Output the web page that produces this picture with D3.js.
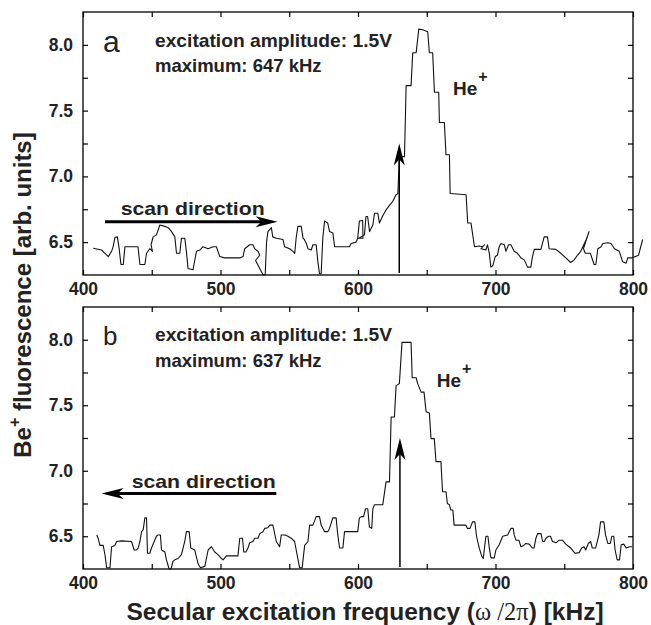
<!DOCTYPE html>
<html><head><meta charset="utf-8">
<script src="https://cdn.jsdelivr.net/npm/d3@7"></script>
<style>body{margin:0;background:#fff}svg{display:block}</style>
</head><body><svg id="c" width="651" height="625"></svg>
<script>
// ---- data ----
const freqA = [407.5,413.5,416,418.4,420.8,422,423.2,425,426.3,427.6,429.3,430.5,440,441.4,445,446.2,448.6,450.5,449.5,451,453.4,455.9,459.5,462,464.4,466.8,468,470.4,471.6,474,475.2,476.4,480,482.5,485,487.3,491,494.6,497,499.5,503,514,516.4,517.6,521.2,523.6,524.9,527.3,528.5,525.5,531,532.5,533.5,534.5,537,538,540.6,545.4,546.6,550.3,552.7,554,555,556.3,558.7,560,561,562.4,563.6,566,567.2,569.6,570.8,572,573.2,574.4,575.7,578,579.3,581.7,583,593.8,595,598.6,599.8,601,603.4,603.6,600.5,604.7,605.8,607,608.4,610.8,612,614.4,615.6,618,620.4,622.9,625.3,627.7,629,630.1,633.8,635,638.6,639.8,642.3,644.2,647,650.7,651.9,654.3,655.6,658.7,659.2,662.8,664,666.5,667,678.6,679.8,682.2,684.7,688.2,690.7,692,689.5,693,694.2,695.5,696.6,698,699.8,701.4,702.7,703.9,706.4,707.6,709.5,711.2,713.6,716,718.5,720.9,723.3,725.7,726.9,728.2,733,735.4,737.8,739,743.9,747.5,751.1,754.7,757.2,759.6,762,766,768,764,765.3,769,771.7,773,774.4,776.8,778,781.7,784,786.5,790,792.5,795,796.2,799,804,807];
const signalA = [6.453,6.44,6.415,6.39,6.43,6.47,6.535,6.54,6.45,6.33,6.33,6.465,6.465,6.33,6.33,6.415,6.45,6.43,6.48,6.54,6.555,6.63,6.62,6.61,6.58,6.54,6.415,6.415,6.53,6.53,6.43,6.30,6.29,6.43,6.44,6.465,6.45,6.465,6.465,6.39,6.38,6.38,6.39,6.45,6.48,6.48,6.45,6.43,6.40,6.36,6.25,6.25,6.50,6.58,6.61,6.54,6.53,6.52,6.465,6.45,6.43,6.415,6.53,6.62,6.62,6.53,6.52,6.49,6.45,6.44,6.48,6.48,6.35,6.26,6.26,6.53,6.66,6.645,6.58,6.57,6.465,6.465,6.49,6.50,6.53,6.66,6.665,6.53,6.53,6.555,6.695,6.695,6.58,6.63,6.72,6.72,6.645,6.70,6.745,6.78,6.81,6.86,6.87,7.15,7.15,7.69,7.69,7.94,7.94,8.12,8.115,8.10,7.94,7.94,7.64,7.64,7.41,7.41,7.165,7.165,6.87,6.86,6.645,6.645,6.465,6.47,6.465,6.48,6.45,6.44,6.48,6.415,6.31,6.32,6.39,6.40,6.465,6.49,6.48,6.43,6.48,6.48,6.43,6.415,6.38,6.365,6.31,6.31,6.39,6.445,6.445,6.54,6.54,6.45,6.445,6.415,6.38,6.345,6.365,6.40,6.43,6.52,6.58,6.45,6.415,6.415,6.33,6.33,6.45,6.465,6.49,6.495,6.49,6.45,6.43,6.35,6.34,6.38,6.38,6.40,6.52];

const freqB = [410,411,412.3,414.7,416,417.2,419.6,420.8,423.2,424.4,428,435.3,437.2,438.9,440.1,441.4,442.6,443.8,445,446.2,446.9,448.6,449.8,453.4,454.6,456.3,457.1,459.5,460.7,462.6,464,465.5,466.8,469.2,471.6,474,475.2,477.2,478.4,481.3,483.7,485.4,488.6,491,493.4,495.8,498.2,500.7,501.9,504.3,512.7,514,516,516.9,518.5,520,521.2,523.6,524.9,527.3,528.5,530.9,532.1,534.5,535.8,538.1,540.6,543,544.2,547,549,551.4,553.9,557.5,559.4,561.2,563.6,564.8,567.2,569.6,572,573.2,575.7,578,579.3,581.7,584.1,585.3,586.6,589,590.2,599.8,601,602.4,604,605.5,607.1,608.3,610,610.8,612,618,620.4,622.9,624.1,626.5,627.7,630.1,632,638.6,639.4,642.3,643.4,645.9,648,649.5,651.9,653.1,655.5,656.7,660.3,661.5,664,665,666.5,667.5,669,669.9,678.4,679.6,681.5,683.3,685,686.2,688.2,690.1,691.1,693,694.5,695.5,696.7,699.1,700.3,702.7,705.2,708.8,710,711.2,712.9,713.6,714.9,717,718.5,720.5,722.1,724.5,726.9,728,729.4,730.6,733.1,734.3,735.5,736.7,738.6,740,741.4,744,746.3,748.7,751.1,754.7,757.9,760.8,762.7,764.4,765.6,767.5,769.2,770.4,772.8,775.2,776.4,778.8,780,781.7,783.5,784.6,786,787,788.5,790.2,791.4,793.3,795,797.5,799.3];
const signalB = [6.51,6.485,6.43,6.43,6.357,6.26,6.26,6.42,6.43,6.46,6.465,6.46,6.395,6.395,6.41,6.46,6.535,6.55,6.64,6.64,6.37,6.37,6.41,6.50,6.51,6.51,6.395,6.38,6.32,6.25,6.25,6.31,6.32,6.33,6.36,6.46,6.535,6.535,6.41,6.395,6.29,6.26,6.27,6.395,6.42,6.38,6.36,6.33,6.32,6.35,6.35,6.485,6.485,6.38,6.38,6.41,6.45,6.46,6.485,6.485,6.52,6.535,6.56,6.565,6.585,6.585,6.46,6.42,6.51,6.51,6.50,6.485,6.46,6.26,6.26,6.43,6.46,6.585,6.585,6.65,6.65,6.585,6.535,6.535,6.56,6.64,6.64,6.51,6.41,6.41,6.535,6.535,6.64,6.65,6.65,6.71,6.71,6.57,6.56,6.71,6.74,6.74,6.915,6.915,7.41,7.41,7.65,7.665,7.98,7.98,7.71,7.71,7.665,7.60,7.60,7.45,7.44,7.245,7.245,7.07,7.07,6.84,6.84,6.75,6.74,6.70,6.70,6.585,6.585,6.56,6.56,6.61,6.61,6.50,6.41,6.345,6.33,6.50,6.50,6.41,6.335,6.335,6.395,6.435,6.50,6.51,6.535,6.56,6.56,6.51,6.47,6.47,6.42,6.43,6.445,6.44,6.41,6.41,6.485,6.52,6.52,6.46,6.46,6.485,6.50,6.50,6.46,6.45,6.47,6.47,6.44,6.41,6.37,6.375,6.41,6.42,6.395,6.445,6.46,6.41,6.41,6.51,6.61,6.61,6.51,6.445,6.445,6.50,6.50,6.395,6.32,6.32,6.435,6.44,6.41,6.42,6.42];

const xMajorTicks = [400,500,600,700,800];
const xMinorTicks = [450,550,650,750];
const yMajorTicks = [6.5,7.0,7.5,8.0];
const yMinorTicks = [6.75,7.25,7.75];
const panelLabels = ["a","b"];
const amplitudeTexts = ["excitation amplitude: 1.5V","excitation amplitude: 1.5V"];
const maximumTexts = ["maximum: 647 kHz","maximum: 637 kHz"];
const markerFreq = [630,630.5];
const markerTop = [7.25,7.25];
const scanFrom = [416,540.6];
const scanTo = [541.5,413.5];
const scanLevel = [6.654,6.827];

// ---- layout ----
const svg = d3.select("#c");
const W = 651, H = 625;
const left = 83, right = 633;
const panels = [
  {top:12, bottom:275, freq:freqA, sig:signalA, lab:{x:103,y:40,size:30}, txtY:[34.7,59.7], he:{x:453,y:83}, scanTxt:{x:120.7,y:203}},
  {top:307, bottom:569, freq:freqB, sig:signalB, lab:{x:103,y:38,size:26}, txtY:[33.7,59.7], he:{x:436.7,y:80}, scanTxt:{x:131.7,y:181}}
];
const sans = "'Liberation Sans', Arial, Helvetica, sans-serif";
const x = d3.scaleLinear().domain([400,800]).range([left,right]);

function arrowHead(g, tx, ty, ang){
  const L=22, hw=5.5, n=16;
  const p = d3.path();
  p.moveTo(0,0); p.lineTo(-L,-hw); p.lineTo(-n,0); p.lineTo(-L,hw); p.closePath();
  g.append("path").attr("d",p.toString())
    .attr("transform",`translate(${tx},${ty}) rotate(${ang})`).attr("fill","#000");
}

panels.forEach((P,i)=>{
  const y = d3.scaleLinear().domain([6.25,8.25]).range([P.bottom,P.top]);
  const g = svg.append("g");
  const tk = 5;
  // axes
  const styleAxis = sel => { sel.select(".domain").remove();
    sel.selectAll("line").attr("stroke","#000").attr("stroke-width",1.2);
    sel.selectAll("text").attr("font-family",sans).attr("font-weight","bold").attr("font-size",17.5).attr("fill","#222"); };
  g.append("g").attr("transform",`translate(0,${P.bottom})`)
    .call(d3.axisBottom(x).tickValues(xMajorTicks).tickFormat(d3.format("d")).tickSizeInner(-tk).tickSizeOuter(0).tickPadding(8)).call(styleAxis);
  g.append("g").attr("transform",`translate(0,${P.bottom})`)
    .call(d3.axisBottom(x).tickValues(xMinorTicks).tickFormat("").tickSizeInner(-tk).tickSizeOuter(0)).call(styleAxis);
  g.append("g").attr("transform",`translate(0,${P.top})`)
    .call(d3.axisTop(x).tickValues(xMajorTicks.concat(xMinorTicks)).tickFormat("").tickSizeInner(-tk).tickSizeOuter(0)).call(styleAxis);
  g.append("g").attr("transform",`translate(${left},0)`)
    .call(d3.axisLeft(y).tickValues(yMajorTicks).tickFormat(d3.format(".1f")).tickSizeInner(-tk).tickSizeOuter(0).tickPadding(10)).call(styleAxis);
  g.append("g").attr("transform",`translate(${left},0)`)
    .call(d3.axisLeft(y).tickValues(yMinorTicks).tickFormat("").tickSizeInner(-tk).tickSizeOuter(0)).call(styleAxis);
  g.append("g").attr("transform",`translate(${right},0)`)
    .call(d3.axisRight(y).tickValues(yMajorTicks.concat(yMinorTicks)).tickFormat("").tickSizeInner(-tk).tickSizeOuter(0)).call(styleAxis);
  // frame
  g.append("rect").attr("x",left).attr("y",P.top).attr("width",right-left).attr("height",P.bottom-P.top)
    .attr("fill","none").attr("stroke","#000").attr("stroke-width",1.3);
  // trace
  const pts = P.freq.map((f,k)=>[f,P.sig[k]]);
  g.append("path").datum(pts)
    .attr("d", d3.line().x(d=>x(d[0])).y(d=>y(d[1])))
    .attr("fill","none").attr("stroke","#111").attr("stroke-width",1.1).attr("stroke-linejoin","round");
  // marker arrow
  const mx = x(markerFreq[i]);
  g.append("line").attr("x1",mx).attr("x2",mx).attr("y1",P.bottom-2).attr("y2",y(markerTop[i])+10)
    .attr("stroke","#000").attr("stroke-width",1.5);
  arrowHead(g, mx, y(markerTop[i]), -90);
  // scan arrow
  const sx1 = x(scanFrom[i]), sx2 = x(scanTo[i]), sy = y(scanLevel[i]);
  const dir = Math.sign(sx2-sx1);
  g.append("line").attr("x1",sx1).attr("x2",sx2-dir*12).attr("y1",sy).attr("y2",sy)
    .attr("stroke","#000").attr("stroke-width",3);
  arrowHead(g, sx2, sy, dir>0?0:180);
  g.append("text").attr("x",P.scanTxt.x).attr("y",P.top+P.scanTxt.y)
    .attr("font-family",sans).attr("font-weight","bold").attr("font-size",19).attr("fill","#222")
    .attr("textLength",144).attr("lengthAdjust","spacingAndGlyphs").text("scan direction");
  // panel label
  g.append("text").attr("x",P.lab.x).attr("y",P.top+P.lab.y)
    .attr("font-family",sans).attr("font-size",P.lab.size).attr("fill","#222").text(panelLabels[i]);
  // annotations
  g.append("text").attr("x",155).attr("y",P.top+P.txtY[0])
    .attr("font-family",sans).attr("font-weight","bold").attr("font-size",18.5).attr("fill","#222")
    .attr("textLength",237).attr("lengthAdjust","spacingAndGlyphs").text(amplitudeTexts[i]);
  g.append("text").attr("x",155).attr("y",P.top+P.txtY[1])
    .attr("font-family",sans).attr("font-weight","bold").attr("font-size",18.5).attr("fill","#222").text(maximumTexts[i]);
  const he = g.append("text").attr("x",P.he.x).attr("y",P.top+P.he.y)
    .attr("font-family",sans).attr("font-weight","bold").attr("font-size",19).attr("fill","#222");
  he.append("tspan").text("He");
  he.append("tspan").attr("dy",-13).attr("dx",1).attr("font-size",16).text("+");
});

// axis titles
const xt = svg.append("text").attr("x",365).attr("y",620).attr("text-anchor","middle")
  .attr("font-family",sans).attr("font-weight","bold").attr("font-size",24.5).attr("fill","#222");
xt.append("tspan").text("Secular excitation frequency (");
xt.append("tspan").attr("font-family","'Liberation Serif', 'Times New Roman', serif").attr("font-weight","normal").text("\u03C9 /2\u03C0");
xt.append("tspan").text(") [kHz]");

const yt = svg.append("text").attr("transform","translate(31,295) rotate(-90)").attr("text-anchor","middle")
  .attr("font-family",sans).attr("font-weight","bold").attr("font-size",24).attr("fill","#222");
yt.append("tspan").text("Be");
yt.append("tspan").attr("dy",-11).attr("font-size",16).text("+");
yt.append("tspan").attr("dy",11).text(" fluorescence [arb. units]");
</script></body></html>
